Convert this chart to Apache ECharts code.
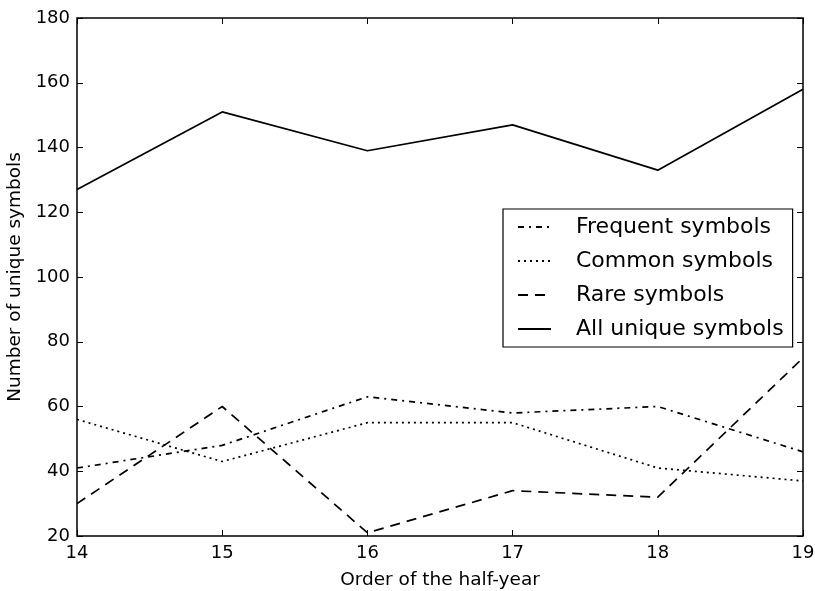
<!DOCTYPE html>
<html><head><meta charset="utf-8">
<script src="https://cdn.jsdelivr.net/npm/echarts@6/dist/echarts.min.js"></script>
<style>html,body{margin:0;padding:0;background:#fff}#c{width:815px;height:591px}</style>
</head><body><div id="c"></div>
<script>
const halfYears = [14, 15, 16, 17, 18, 19];
const frequent = [41, 48, 63, 58, 60, 46];
const common = [56, 43, 55, 55, 41, 37];
const rare = [30, 60, 21, 34, 32, 75];
const allUnique = [127, 151, 139, 147, 133, 158];
const seriesNames = ['Frequent symbols', 'Common symbols', 'Rare symbols', 'All unique symbols'];
const yTicks = [20, 40, 60, 80, 100, 120, 140, 160, 180];

const font = 'DejaVu Sans';
const pairs = v => halfYears.map((x, i) => [x, v[i]]);
const dashes = [[6, 5, 2, 5], [2, 4], [10, 7], 'solid'];
const values = [frequent, common, rare, allUnique];

const chart = echarts.init(document.getElementById('c'));
const tickStyle = {show: true, inside: true, length: 6, lineStyle: {color: '#000', width: 1}};
chart.setOption({
  animation: false,
  backgroundColor: '#fff',
  grid: {left: 77, right: 12, top: 18, bottom: 55, show: true, borderColor: '#000', borderWidth: 1.5,
    backgroundColor: 'transparent', outerBoundsMode: 'none', containLabel: false},
  legend: {
    orient: 'vertical', left: 503, top: 209,
    backgroundColor: '#fff', borderColor: '#000', borderWidth: 1.2,
    padding: [7, 9, 7, 14], itemGap: 12, itemWidth: 33, itemHeight: 14,
    itemStyle: {opacity: 0},
    textStyle: {fontFamily: font, fontSize: 22, lineHeight: 21, color: '#000', padding: [0, 0, 0, 20]},
    data: seriesNames
  },
  xAxis: [{
    type: 'value', min: 14, max: 19, interval: 1,
    name: 'Order of the half-year', nameLocation: 'middle', nameGap: 35,
    nameTextStyle: {fontFamily: font, fontSize: 18.5, color: '#000'},
    axisLine: {show: false}, splitLine: {show: false},
    axisTick: tickStyle,
    axisLabel: {fontFamily: font, fontSize: 18, color: '#000', margin: 8}
  }, {
    type: 'value', min: 14, max: 19, interval: 1, position: 'top',
    axisLine: {show: false}, splitLine: {show: false}, axisTick: tickStyle, axisLabel: {show: false}
  }],
  yAxis: [{
    type: 'value', min: 20, max: 180, interval: 20,
    name: 'Number of unique symbols', nameLocation: 'middle', nameGap: 48,
    nameTextStyle: {fontFamily: font, fontSize: 18.5, color: '#000'},
    axisLine: {show: false}, splitLine: {show: false},
    axisTick: tickStyle,
    axisLabel: {fontFamily: font, fontSize: 18, color: '#000', margin: 7,
      formatter: v => yTicks.includes(v) ? String(v) : ''}
  }, {
    type: 'value', min: 20, max: 180, interval: 20, position: 'right',
    axisLine: {show: false}, splitLine: {show: false}, axisTick: tickStyle, axisLabel: {show: false}
  }],
  series: seriesNames.map((n, i) => ({
    name: n, type: 'line', data: pairs(values[i]),
    showSymbol: false, symbol: 'none',
    lineStyle: {color: '#000', width: 1.7, type: dashes[i]},
    itemStyle: {color: '#000'}
  }))
});
</script></body></html>
